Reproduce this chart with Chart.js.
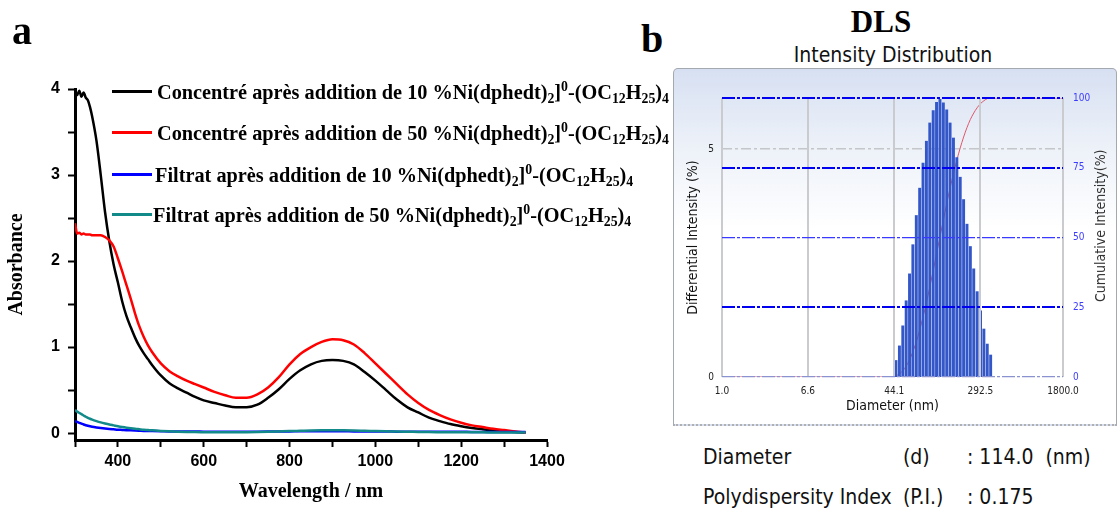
<!DOCTYPE html>
<html>
<head>
<meta charset="utf-8">
<title>UV-Vis / DLS</title>
<script src="https://cdn.jsdelivr.net/npm/chart.js@4.4.0/dist/chart.umd.min.js"></script>
<style>
    body { margin: 0; background: #fff; }
    #page { position: relative; width: 1120px; height: 511px; overflow: hidden; background: #fff; }
    canvas { position: absolute; display: block; }
    .abs { position: absolute; white-space: nowrap; }
    .panel-label { font: bold 40px 'Liberation Serif', 'Times New Roman', serif; line-height: 40px; }
    .legend-row { font: bold 20.3px 'Liberation Serif', 'Times New Roman', serif; line-height: 20px; color: #000; }
    .legend-row sub, .legend-row sup { font-size: 0.68em; vertical-align: baseline; position: relative; }
    .legend-row sub { top: 0.3em; }
    .legend-row sup { top: -0.55em; }
    .swatch { position: absolute; height: 3px; width: 40px; }
    .tahoma { font-family: 'DejaVu Sans Condensed', 'DejaVu Sans', sans-serif; color: #111; }
    #dls-box {
        position: absolute; left: 673px; top: 68px; width: 442px; height: 355px;
        border: 1px solid #a4a8b0; border-bottom: 2px dotted #b0b0b0; border-radius: 5px 5px 0 0;
        background: linear-gradient(to bottom, #d7e0f2 0%, #ebf0f8 20%, #ffffff 45%);
    }
    #dls-box canvas { left: 0; top: 0; }
</style>
</head>
<body>
<div id="page">
    <canvas id="uvChart" width="600" height="511" style="left:0;top:0"></canvas>
    <div class="abs panel-label" style="left:12px;top:11px">a</div>
    <div id="uv-legend"></div>

    <div class="abs panel-label" style="left:641px;top:19px">b</div>
    <div class="abs" style="left:780px;width:202px;top:6px;text-align:center;font:bold 31px 'Liberation Serif','Times New Roman',serif;line-height:31px">DLS</div>
    <div class="abs tahoma" style="left:743px;width:300px;top:45px;text-align:center;font-size:21px;line-height:21px">Intensity Distribution</div>
    <div id="dls-box"><canvas id="dlsChart" width="442" height="355"></canvas></div>
    <div class="abs tahoma" style="left:1024px;width:152px;top:218px;text-align:center;font-size:14px;line-height:16px;color:#333;transform:rotate(-90deg)">Cumulative Intensity(%)</div>

    <div class="abs tahoma" style="left:703px;top:447px;font-size:21px;line-height:21px">Diameter</div>
    <div class="abs tahoma" style="left:903px;top:447px;font-size:21px;line-height:21px">(d)</div>
    <div class="abs tahoma" style="left:967px;top:447px;font-size:21px;line-height:21px">: 114.0&nbsp; (nm)</div>
    <div class="abs tahoma" style="left:703px;top:487px;font-size:21px;line-height:21px">Polydispersity Index</div>
    <div class="abs tahoma" style="left:903px;top:487px;font-size:21px;line-height:21px">(P.I.)</div>
    <div class="abs tahoma" style="left:967px;top:487px;font-size:21px;line-height:21px">: 0.175</div>
</div>

<script>
// ---- panel a : absorption spectra ----
const wavelengths = [300, 305, 310, 315, 320, 325, 330, 335, 340,
    350, 360, 370, 380, 390, 400, 410, 420, 430, 440, 450, 460, 470, 480,
    500, 520, 540, 560, 580, 600,
    625, 650, 675, 700, 725, 750, 775, 800, 825, 850, 875, 900, 925, 950, 975, 1000,
    1025, 1050, 1075, 1100, 1125, 1150, 1175, 1200, 1225, 1250, 1275, 1300, 1325, 1350];

const conc10 = [3.97, 3.93, 3.98, 3.91, 3.96, 3.90, 3.87, 3.79, 3.68,
    3.40, 3.00, 2.57, 2.23, 1.96, 1.75, 1.53, 1.36, 1.23, 1.11, 1.01, 0.93, 0.86, 0.79,
    0.67, 0.58, 0.52, 0.47, 0.42, 0.38,
    0.35, 0.32, 0.30, 0.30, 0.33, 0.41, 0.51, 0.63, 0.73, 0.80, 0.84, 0.85, 0.84, 0.80, 0.71, 0.61,
    0.50, 0.39, 0.30, 0.24, 0.18, 0.14, 0.105, 0.08, 0.06, 0.045, 0.032, 0.022, 0.012, 0.004];

const conc50 = [2.44, 2.32, 2.33, 2.31, 2.32, 2.31, 2.31, 2.31, 2.30,
    2.30, 2.30, 2.28, 2.24, 2.17, 2.03, 1.88, 1.72, 1.56, 1.39, 1.24, 1.12, 1.02, 0.94,
    0.81, 0.72, 0.66, 0.61, 0.57, 0.53,
    0.48, 0.44, 0.41, 0.41, 0.45, 0.53, 0.65, 0.80, 0.92, 1.00, 1.06, 1.09, 1.08, 1.03, 0.93, 0.81,
    0.69, 0.57, 0.45, 0.35, 0.27, 0.21, 0.16, 0.12, 0.09, 0.07, 0.05, 0.035, 0.02, 0.005];

const filt10 = [0.14, 0.13, 0.12, 0.11, 0.10, 0.092, 0.085, 0.079, 0.074,
    0.066, 0.059, 0.053, 0.048, 0.044, 0.040, 0.037, 0.034, 0.032, 0.030, 0.028, 0.026, 0.025, 0.024,
    0.022, 0.020, 0.019, 0.018, 0.018, 0.017,
    0.017, 0.017, 0.016, 0.016, 0.017, 0.018, 0.019, 0.020, 0.021, 0.022, 0.022, 0.022, 0.021, 0.020, 0.019, 0.018,
    0.018, 0.017, 0.017, 0.016, 0.016, 0.015, 0.015, 0.015, 0.014, 0.014, 0.013, 0.013, 0.012, 0.012];

const filt50 = [0.27, 0.25, 0.235, 0.22, 0.205, 0.19, 0.178, 0.167, 0.157,
    0.14, 0.125, 0.112, 0.10, 0.09, 0.08, 0.071, 0.063, 0.056, 0.05, 0.045, 0.04, 0.036, 0.032,
    0.026, 0.021, 0.017, 0.014, 0.012, 0.011,
    0.010, 0.010, 0.010, 0.011, 0.013, 0.016, 0.020, 0.024, 0.027, 0.030, 0.032, 0.033, 0.032, 0.030, 0.027, 0.024,
    0.021, 0.018, 0.016, 0.014, 0.012, 0.011, 0.010, 0.010, 0.009, 0.009, 0.008, 0.008, 0.007, 0.007];

const seriesValues = [conc10, conc50, filt10, filt50];
const seriesColors = ['#000000', '#ff0000', '#0000ff', '#138a8a'];
const seriesNames = [
    'Concentré après addition de 10 %Ni(dphedt)2]0-(OC12H25)4',
    'Concentré après addition de 50 %Ni(dphedt)2]0-(OC12H25)4',
    'Filtrat après addition de 10 %Ni(dphedt)2]0-(OC12H25)4',
    'Filtrat après addition de 50 %Ni(dphedt)2]0-(OC12H25)4'
];
const seriesLegendHtml = [
    'Concentré après addition de 10 %Ni(dphedt)<sub>2</sub>]<sup>0</sup>-(OC<sub>12</sub>H<sub>25</sub>)<sub>4</sub>',
    'Concentré après addition de 50 %Ni(dphedt)<sub>2</sub>]<sup>0</sup>-(OC<sub>12</sub>H<sub>25</sub>)<sub>4</sub>',
    'Filtrat après addition de 10 %Ni(dphedt)<sub>2</sub>]<sup>0</sup>-(OC<sub>12</sub>H<sub>25</sub>)<sub>4</sub>',
    'Filtrat après addition de 50 %Ni(dphedt)<sub>2</sub>]<sup>0</sup>-(OC<sub>12</sub>H<sub>25</sub>)<sub>4</sub>'
];
const legendRowsY = [91, 132, 174, 214];

const uvXTicks = [300, 400, 500, 600, 700, 800, 900, 1000, 1100, 1200, 1300, 1400];
const uvYTicks = [0, 0.5, 1, 1.5, 2, 2.5, 3, 3.5, 4];

// ---- panel b : DLS intensity distribution ----
const binDiameters = [45.8, 49.4, 53.2, 57.3, 61.7, 66.4, 71.6, 77.1, 83.0, 89.4,
    96.3, 103.8, 111.7, 120.4, 129.7, 139.7, 150.4, 162.0, 174.5, 188.0,
    202.5, 218.1, 234.9, 253.0, 272.6, 293.6, 316.2, 340.6, 366.9];
const diffIntensity = [0.37, 0.69, 1.13, 1.68, 2.27, 2.91, 3.55, 4.15, 4.70, 5.18,
    5.58, 5.85, 6.03, 6.10, 6.02, 5.87, 5.58, 5.25, 4.82, 4.39,
    3.90, 3.36, 2.87, 2.38, 1.88, 1.46, 1.06, 0.73, 0.49];
const cumIntensity = [0.4, 1.1, 2.2, 3.9, 6.1, 9.1, 12.6, 16.8, 21.5, 26.6,
    32.2, 38.1, 44.1, 50.2, 56.2, 62.1, 67.7, 72.9, 77.7, 82.1,
    86.0, 89.4, 92.3, 94.6, 96.5, 98.0, 99.0, 99.8, 100];
const dlsXTicks = [1.0, 6.6, 44.1, 292.5, 1800.0];
const dlsYTicks = [0, 5];
const dlsCumTicks = [0, 25, 50, 75, 100];

const SERIF = "'Liberation Serif', 'Times New Roman', serif";
const ARIAL = "'Liberation Sans', Arial, sans-serif";
const TAHOMA = "'DejaVu Sans Condensed', 'DejaVu Sans', sans-serif";

function buildLegend() {
    const box = document.getElementById('uv-legend');
    seriesLegendHtml.forEach((html, i) => {
        const y = legendRowsY[i];
        const sw = document.createElement('div');
        sw.className = 'swatch';
        sw.style.left = '112px';
        sw.style.top = (y - 1.5) + 'px';
        sw.style.background = seriesColors[i];
        box.appendChild(sw);

        const txt = document.createElement('div');
        txt.className = 'abs legend-row';
        txt.style.left = (i < 2 ? 157 : (i === 2 ? 155 : 153)) + 'px';
        txt.style.top = (y - 9) + 'px';
        txt.innerHTML = html;
        box.appendChild(txt);
    });
}

function renderSpectra() {
    new Chart(document.getElementById('uvChart'), {
        type: 'line',
        data: {
            datasets: seriesValues.map((vals, i) => ({
                label: seriesNames[i],
                data: wavelengths.map((w, j) => ({ x: w, y: vals[j] })),
                borderColor: seriesColors[i],
                borderWidth: 2.5,
                pointRadius: 0,
                fill: false,
                cubicInterpolationMode: 'monotone'
            })).reverse()
        },
        options: {
            responsive: false,
            animation: false,
            layout: { padding: { top: 89, right: 53, left: 0, bottom: 0 } },
            plugins: { legend: { display: false }, tooltip: { enabled: false } },
            scales: {
                x: {
                    type: 'linear', min: 300, max: 1400,
                    afterBuildTicks: s => { s.ticks = uvXTicks.map(v => ({ value: v })); },
                    afterFit: s => { s.height = 71; },
                    ticks: {
                        autoSkip: false, maxRotation: 0, padding: 5, color: '#000',
                        font: { family: ARIAL, size: 16, weight: 'bold' },
                        callback: v => (v % 200 === 0 ? String(v) : '')
                    },
                    grid: { drawOnChartArea: false, tickLength: 7, tickWidth: 2, tickColor: '#000' },
                    border: { color: '#000', width: 3 },
                    title: {
                        display: true, text: 'Wavelength / nm', color: '#000',
                        font: { family: SERIF, size: 20, weight: 'bold' },
                        padding: { top: 0, bottom: 7 }
                    }
                },
                y: {
                    min: -0.08, max: 4,
                    afterBuildTicks: s => { s.ticks = uvYTicks.map(v => ({ value: v })); },
                    afterFit: s => { s.width = 75; },
                    ticks: {
                        autoSkip: false, padding: 8, color: '#000',
                        font: { family: ARIAL, size: 16, weight: 'bold' },
                        callback: v => (Number.isInteger(v) ? String(v) : '')
                    },
                    grid: { drawOnChartArea: false, tickLength: 7, tickWidth: 2, tickColor: '#000' },
                    border: { color: '#000', width: 3 },
                    title: {
                        display: true, text: 'Absorbance', color: '#000',
                        font: { family: SERIF, size: 20, weight: 'bold' },
                        padding: { top: 5, bottom: 0 }
                    }
                }
            }
        }
    });
}

function renderDls() {
    const cumPoints = [{ x: 1.0, y: 0 }, { x: 44.1, y: 0 }]
        .concat(binDiameters.map((d, i) => ({ x: d, y: cumIntensity[i] })))
        .concat([{ x: 1800, y: 100 }]);

    new Chart(document.getElementById('dlsChart'), {
        type: 'bar',
        data: {
            datasets: [{
                type: 'bar',
                label: 'Differential Intensity (%)',
                data: binDiameters.map((d, i) => ({ x: d, y: diffIntensity[i] })),
                backgroundColor: '#3357c8',
                borderWidth: 0,
                barPercentage: 0.88,
                categoryPercentage: 1,
                yAxisID: 'y',
                order: 1
            }, {
                type: 'line',
                label: 'Cumulative Intensity(%)',
                data: cumPoints,
                borderColor: '#e0566a',
                borderWidth: 1,
                pointRadius: 0,
                cubicInterpolationMode: 'monotone',
                yAxisID: 'y2',
                order: 2
            }]
        },
        options: {
            responsive: false,
            animation: false,
            layout: { padding: { top: 29, right: 0, left: 0, bottom: 0 } },
            plugins: { legend: { display: false }, tooltip: { enabled: false } },
            scales: {
                x: {
                    type: 'logarithmic', min: 1, max: 1800, offset: false,
                    afterBuildTicks: s => { s.ticks = dlsXTicks.map(v => ({ value: v })); },
                    afterFit: s => { s.height = 47; },
                    ticks: {
                        autoSkip: false, maxRotation: 0, padding: 8, color: '#222',
                        font: { family: TAHOMA, size: 10 },
                        callback: v => Number(v).toFixed(1)
                    },
                    grid: { offset: false, drawTicks: false, color: '#c9cbcf', lineWidth: 2, z: 1 },
                    border: { display: false },
                    title: {
                        display: true, text: 'Diameter (nm)', color: '#111',
                        font: { family: TAHOMA, size: 14 },
                        padding: { top: 0, bottom: 9 }
                    }
                },
                y: {
                    position: 'left', min: 0, max: 6.12,
                    afterBuildTicks: s => { s.ticks = dlsYTicks.map(v => ({ value: v })); },
                    afterFit: s => { s.width = 48; },
                    ticks: { padding: 8, color: '#222', font: { family: TAHOMA, size: 10 } },
                    grid: {
                        drawTicks: false, color: '#c4c6ca',
                        lineWidth: c => (c.tick && c.tick.value === 5 ? 1.5 : 0)
                    },
                    border: { display: false, dash: [10, 3, 3, 3] },
                    title: {
                        display: true, text: 'Differential Intensity (%)', color: '#111',
                        font: { family: TAHOMA, size: 14 },
                        padding: { top: 11, bottom: 0 }
                    }
                },
                y2: {
                    position: 'right', min: 0, max: 100,
                    afterBuildTicks: s => { s.ticks = dlsCumTicks.map(v => ({ value: v })); },
                    afterFit: s => { s.width = 53; },
                    ticks: { padding: 10, color: '#3c3cff', font: { family: TAHOMA, size: 10 } },
                    grid: {
                        drawTicks: false, z: 1,
                        color: c => (c.tick && c.tick.value === 0 ? '#8a92d0' : (c.tick && c.tick.value === 50 ? '#3a3aff' : '#0000f0')),
                        lineWidth: c => (c.tick && (c.tick.value === 50 || c.tick.value === 0) ? 1.2 : 2)
                    },
                    border: { display: false, dash: [13, 2, 3, 2] }
                }
            }
        }
    });
}

document.addEventListener('DOMContentLoaded', () => {
    try {
        buildLegend();
        renderSpectra();
        renderDls();
    } catch (e) {
        console.error('Chart init failed:', e);
    }
});
</script>
</body>
</html>
